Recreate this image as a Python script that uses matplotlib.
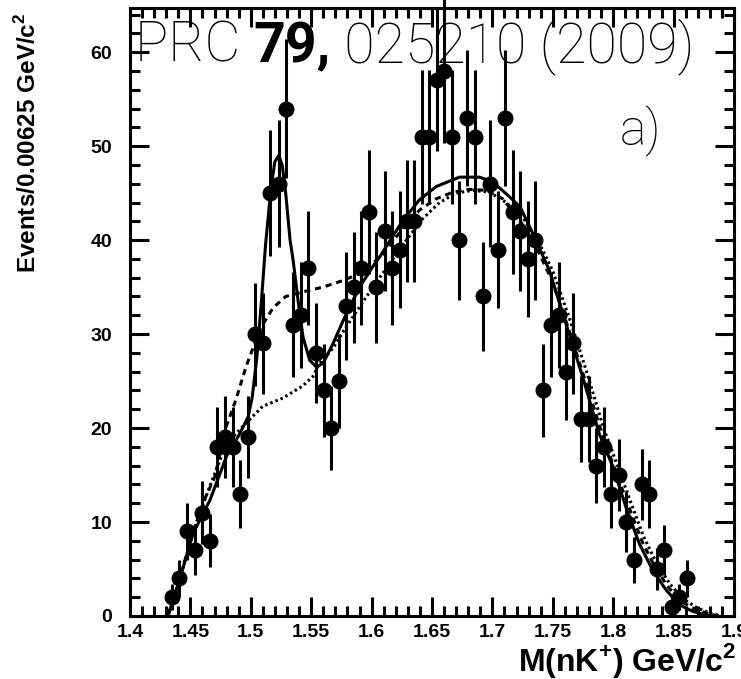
import matplotlib
matplotlib.use('Agg')
import matplotlib.pyplot as plt
import numpy as np
from matplotlib.ticker import MultipleLocator

# ---- data ----
mass = [1.4347, 1.4407, 1.4474, 1.4535, 1.4595, 1.4659, 1.4721, 1.4788, 1.4854, 1.4912,
        1.4973, 1.5037, 1.5099, 1.5163, 1.5231, 1.5289, 1.5350, 1.5413, 1.5477, 1.5543,
        1.5603, 1.5665, 1.5727, 1.5791, 1.5854, 1.5915, 1.5978, 1.6039, 1.6107, 1.6168,
        1.6231, 1.6292, 1.6355, 1.6416, 1.6479, 1.6543, 1.6603, 1.6667, 1.6727, 1.6791,
        1.6857, 1.6920, 1.6983, 1.7044, 1.7107, 1.7171, 1.7231, 1.7298, 1.7355, 1.7416,
        1.7485, 1.7548, 1.7609, 1.7669, 1.7733, 1.7796, 1.7857, 1.7926, 1.7983, 1.8050,
        1.8105, 1.8174, 1.8237, 1.8298, 1.8361, 1.8421, 1.8485, 1.8545, 1.8614]
counts = [2, 4, 9, 7, 11, 8, 18, 19, 18, 13,
          19, 30, 29, 45, 46, 54, 31, 32, 37, 28,
          24, 20, 25, 33, 35, 37, 43, 35, 41, 37,
          39, 42, 42, 51, 51, 57, 58, 51, 40, 53,
          51, 34, 46, 39, 53, 43, 41, 38, 40, 24,
          31, 32, 26, 29, 21, 21, 16, 18, 13, 15,
          10, 6, 14, 13, 5, 7, 1, 2, 4]

# full fit (signal + background), solid
fit_x = [1.4314, 1.4413, 1.4523, 1.4661, 1.4799, 1.4909, 1.4978, 1.5012, 1.5050, 1.5085,
         1.5122, 1.5163, 1.5198, 1.5231, 1.5260, 1.5289, 1.5325, 1.5350, 1.5391, 1.5432,
         1.5488, 1.5543, 1.5598, 1.5681, 1.5791, 1.5901, 1.6011, 1.6066, 1.6259, 1.6397,
         1.6535, 1.6727, 1.6893, 1.7003, 1.7143, 1.7231, 1.7334, 1.7471, 1.7609, 1.7746,
         1.7884, 1.7994, 1.8105, 1.8216, 1.8326, 1.8436, 1.8547, 1.8657, 1.8767, 1.8850]
fit_y = [0.0, 4.0, 8.8, 12.3, 17.0, 19.4, 21.2, 23.3, 27.5, 33.0,
         39.5, 45.0, 48.3, 49.0, 48.0, 45.0, 40.0, 37.9, 33.6, 29.7,
         27.2, 26.5, 26.9, 29.0, 32.2, 35.0, 37.2, 38.2, 42.1, 44.3,
         45.7, 46.7, 46.7, 46.2, 44.6, 43.5, 40.7, 36.8, 31.1, 25.5,
         19.4, 16.0, 11.6, 7.7, 4.9, 2.8, 1.2, 0.5, 0.1, 0.0]

# background shape 1, dashed
dash_x = [1.4314, 1.4413, 1.4523, 1.4620, 1.4702, 1.4795, 1.4876, 1.4960, 1.5074, 1.5185,
          1.5289, 1.5432, 1.5598, 1.5763, 1.5929, 1.6094, 1.6262, 1.6397, 1.6535, 1.6672,
          1.6810, 1.6948, 1.7085, 1.7231, 1.7350, 1.7490, 1.7630, 1.7770, 1.7910, 1.8020,
          1.8130, 1.8240, 1.8350, 1.8460, 1.8570, 1.8680, 1.8800, 1.8880]
dash_y = [0.0, 4.0, 9.0, 12.5, 14.8, 20.1, 23.0, 26.5, 30.5, 32.8,
          34.0, 34.5, 35.0, 35.7, 36.6, 38.5, 41.3, 43.2, 44.4, 45.1,
          45.4, 45.3, 44.4, 42.0, 39.6, 35.8, 30.6, 25.0, 19.3, 15.4,
          11.6, 7.9, 5.1, 3.0, 1.5, 0.7, 0.2, 0.0]

# background shape 2, dotted
dot_x = [1.4314, 1.4413, 1.4523, 1.4661, 1.4766, 1.4876, 1.4959, 1.5097, 1.5267, 1.5432,
         1.5515, 1.5570, 1.5681, 1.5791, 1.5901, 1.6011, 1.6149, 1.6287, 1.6425, 1.6562,
         1.6700, 1.6838, 1.6976, 1.7114, 1.7250, 1.7370, 1.7500, 1.7640, 1.7780, 1.7920,
         1.8030, 1.8140, 1.8250, 1.8360, 1.8470, 1.8580, 1.8690, 1.8800, 1.8900]
dot_y = [0.0, 4.0, 9.0, 13.8, 17.3, 19.4, 20.5, 22.3, 23.2, 24.5,
         25.5, 26.9, 28.5, 30.8, 32.9, 35.0, 37.5, 40.0, 42.3, 44.0,
         45.0, 45.3, 45.1, 44.0, 42.4, 40.2, 36.7, 31.6, 26.0, 20.0,
         16.2, 12.3, 8.5, 5.6, 3.4, 1.8, 0.9, 0.3, 0.0]

x_label = "M(nK$^{\\mathbf{+}}$) GeV/c$^{\\mathbf{2}}$"
y_label = "Events/0.00625 GeV/c$^{\\mathbf{2}}$"

# ---- figure ----
plt.rcParams['mathtext.fontset'] = 'custom'
plt.rcParams['mathtext.bf'] = 'Liberation Sans:bold'
plt.rcParams['mathtext.rm'] = 'Liberation Sans:bold'

W, H = 741, 679
fig = plt.figure(figsize=(W / 100, H / 100), dpi=100)
fig.patch.set_facecolor('white')
ax = fig.add_axes([130 / W, 1 - 616 / H, (734 - 130) / W, (616 - 8) / H])

lw = 2.2
ax.plot(fit_x, fit_y, color='black', lw=lw, ls='-', zorder=2)
ax.plot(dash_x, dash_y, color='black', lw=lw, ls=(0, (2.0, 1.6)), zorder=2)
ax.plot(dot_x, dot_y, color='black', lw=lw, ls=(0, (0.8, 1.0)), zorder=2)

err = np.sqrt(np.array(counts, dtype=float))
eb = ax.errorbar(mass, counts, yerr=err, fmt='o', color='black', ms=10.5,
                 elinewidth=2.2, capsize=0, zorder=3)
for art in eb.lines[2]:
    art.set_clip_on(False)
eb.lines[0].set_clip_on(False)

ax.set_xlim(1.4, 1.9)
ax.set_ylim(0, 64.7)
ax.xaxis.set_major_locator(MultipleLocator(0.05))
ax.xaxis.set_minor_locator(MultipleLocator(0.01))
ax.yaxis.set_major_locator(MultipleLocator(10))
ax.yaxis.set_minor_locator(MultipleLocator(2))

def fmt_x(v, pos):
    s = f"{v:.2f}".rstrip('0').rstrip('.')
    return s
ax.xaxis.set_major_formatter(plt.FuncFormatter(fmt_x))
ax.yaxis.set_major_formatter(plt.FuncFormatter(lambda v, p: f"{int(round(v))}"))

for sp in ax.spines.values():
    sp.set_linewidth(2.2)
ax.tick_params(which='major', direction='in', length=14, width=2.2, top=True, right=True)
ax.tick_params(which='minor', direction='in', length=7, width=2.2, top=True, right=True)
ax.tick_params(axis='x', which='major', pad=6)
ax.tick_params(axis='y', which='major', pad=13)
for lab in ax.get_xticklabels() + ax.get_yticklabels():
    lab.set_fontfamily('Liberation Sans')
    lab.set_fontweight('bold')
    lab.set_fontsize(14)
    lab.set_clip_on(False)

fig.text(28 / W, 1 - 13 / H, y_label, rotation=90, ha='center', va='top',
         fontsize=17.5, fontweight='bold', family='Liberation Sans')
fig.text(736 / W, 1 - 660 / H, x_label, ha='right', va='center',
         fontsize=23, fontweight='bold', family='Liberation Sans')

# title with bold volume number
fig.canvas.draw()
renderer = fig.canvas.get_renderer()
tfs = 40
x0 = 135
ybase = 1 - 62 / H
parts = [("PRC ", 'ultralight'), ("79,", 'bold'), (" 025210 (2009)", 'ultralight')]
xcur = x0
for txt, wgt in parts:
    t = fig.text(xcur / W, ybase, txt, ha='left', va='baseline', fontsize=tfs,
                 fontweight=wgt, family='Roboto')
    bb = t.get_window_extent(renderer)
    xcur = bb.x1

fig.text(620 / W, 1 - 145 / H, "a)", ha='left', va='baseline', fontsize=36,
         fontweight='ultralight', family='Roboto')

fig.savefig('out.png', dpi=100, facecolor='white')
